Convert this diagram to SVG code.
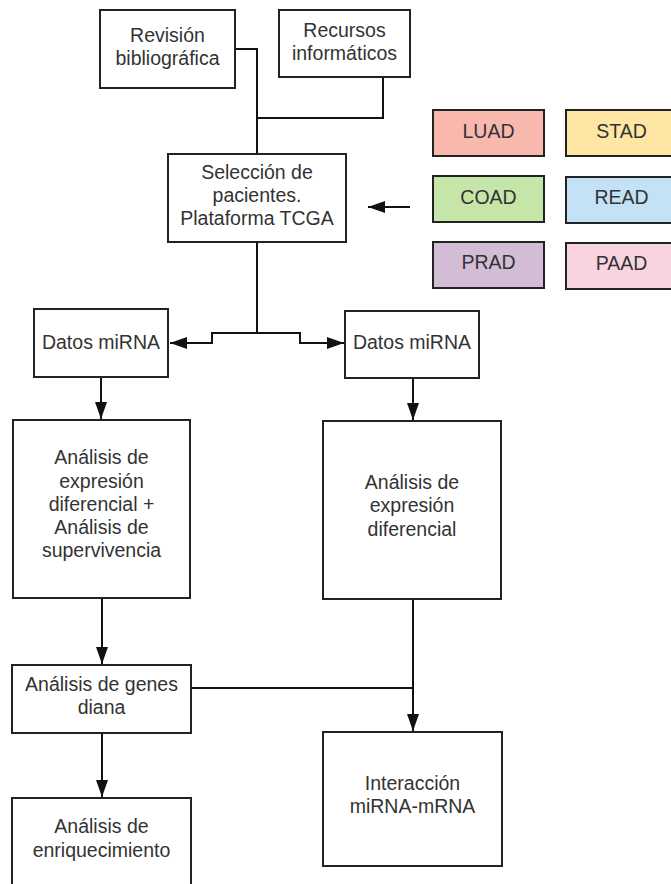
<svg xmlns="http://www.w3.org/2000/svg" width="671" height="884" viewBox="0 0 671 884">
<defs>
<style>
.box{fill:#fff;stroke:#222;stroke-width:2}
.t{font-family:"Liberation Sans",Arial,sans-serif;font-size:19.5px;fill:#333;text-anchor:middle}
.c{fill:none;stroke:#111;stroke-width:2}
</style>
<marker id="ah" markerUnits="userSpaceOnUse" markerWidth="18" markerHeight="12" refX="17" refY="6" orient="auto">
<path d="M0,0 L17,6 L0,12 z" fill="#111"/>
</marker>
</defs>
<rect width="671" height="884" fill="#fff"/>
<g id="connectors">
<path class="c" d="M235,49 H257 V154"/>
<path class="c" d="M383,77 V118 H257"/>
<path class="c" d="M410,207 H368" marker-end="url(#ah)"/>
<path class="c" d="M257,242 V333 H212 V343 H170" marker-end="url(#ah)"/>
<path class="c" d="M257,333 H300 V343 H344" marker-end="url(#ah)"/>
<path class="c" d="M101,377 V419" marker-end="url(#ah)"/>
<path class="c" d="M413,378 V420" marker-end="url(#ah)"/>
<path class="c" d="M102,598 V664" marker-end="url(#ah)"/>
<path class="c" d="M413,599 V731" marker-end="url(#ah)"/>
<path class="c" d="M191,688 H413"/>
<path class="c" d="M102,733 V797" marker-end="url(#ah)"/>
</g>
<g id="revision">
<rect class="box" x="100" y="10" width="135" height="78"/>
<text class="t" x="167.5" y="42">Revisión</text>
<text class="t" x="167.5" y="65">bibliográfica</text>
</g>
<g id="recursos">
<rect class="box" x="279" y="10" width="131" height="67"/>
<text class="t" x="344.5" y="37">Recursos</text>
<text class="t" x="344.5" y="60">informáticos</text>
</g>
<g id="seleccion">
<rect class="box" x="168" y="154" width="178" height="88"/>
<text class="t" x="257" y="179">Selección de</text>
<text class="t" x="257" y="202">pacientes.</text>
<text class="t" x="257" y="225">Plataforma TCGA</text>
</g>
<g id="luad">
<rect class="box" x="433" y="110" width="111" height="46" style="fill:#f9b8ae"/>
<text class="t" x="488.5" y="138">LUAD</text>
</g>
<g id="stad">
<rect class="box" x="566" y="110" width="111" height="46" style="fill:#ffe7a3"/>
<text class="t" x="621.5" y="138">STAD</text>
</g>
<g id="coad">
<rect class="box" x="433" y="176" width="111" height="46" style="fill:#c6e5a8"/>
<text class="t" x="488.5" y="204">COAD</text>
</g>
<g id="read">
<rect class="box" x="566" y="177" width="111" height="46" style="fill:#c3e2f5"/>
<text class="t" x="621.5" y="204">READ</text>
</g>
<g id="prad">
<rect class="box" x="433" y="242" width="111" height="46" style="fill:#d3bcd5"/>
<text class="t" x="488.5" y="269">PRAD</text>
</g>
<g id="paad">
<rect class="box" x="566" y="243" width="111" height="46" style="fill:#f9d3df"/>
<text class="t" x="621.5" y="270">PAAD</text>
</g>
<g id="datos-left">
<rect class="box" x="34" y="309" width="134" height="68"/>
<text class="t" x="101" y="349">Datos miRNA</text>
</g>
<g id="datos-right">
<rect class="box" x="345" y="311" width="134" height="67"/>
<text class="t" x="412" y="349">Datos miRNA</text>
</g>
<g id="analisis-left">
<rect class="box" x="13" y="420" width="177" height="178"/>
<text class="t" x="101.5" y="464">Análisis de</text>
<text class="t" x="101.5" y="488">expresión</text>
<text class="t" x="101.5" y="511">diferencial +</text>
<text class="t" x="101.5" y="534">Análisis de</text>
<text class="t" x="101.5" y="557">supervivencia</text>
</g>
<g id="analisis-right">
<rect class="box" x="323" y="421" width="178" height="178"/>
<text class="t" x="412" y="489">Análisis de</text>
<text class="t" x="412" y="512">expresión</text>
<text class="t" x="412" y="536">diferencial</text>
</g>
<g id="genes">
<rect class="box" x="12" y="665" width="179" height="68"/>
<text class="t" x="101.5" y="691">Análisis de genes</text>
<text class="t" x="101.5" y="714">diana</text>
</g>
<g id="interaccion">
<rect class="box" x="323" y="732" width="179" height="134"/>
<text class="t" x="412.5" y="790">Interacción</text>
<text class="t" x="412.5" y="813">miRNA-mRNA</text>
</g>
<g id="enriquecimiento">
<rect class="box" x="12" y="798" width="179" height="110"/>
<text class="t" x="101.5" y="833">Análisis de</text>
<text class="t" x="101.5" y="857">enriquecimiento</text>
</g>
</svg>
